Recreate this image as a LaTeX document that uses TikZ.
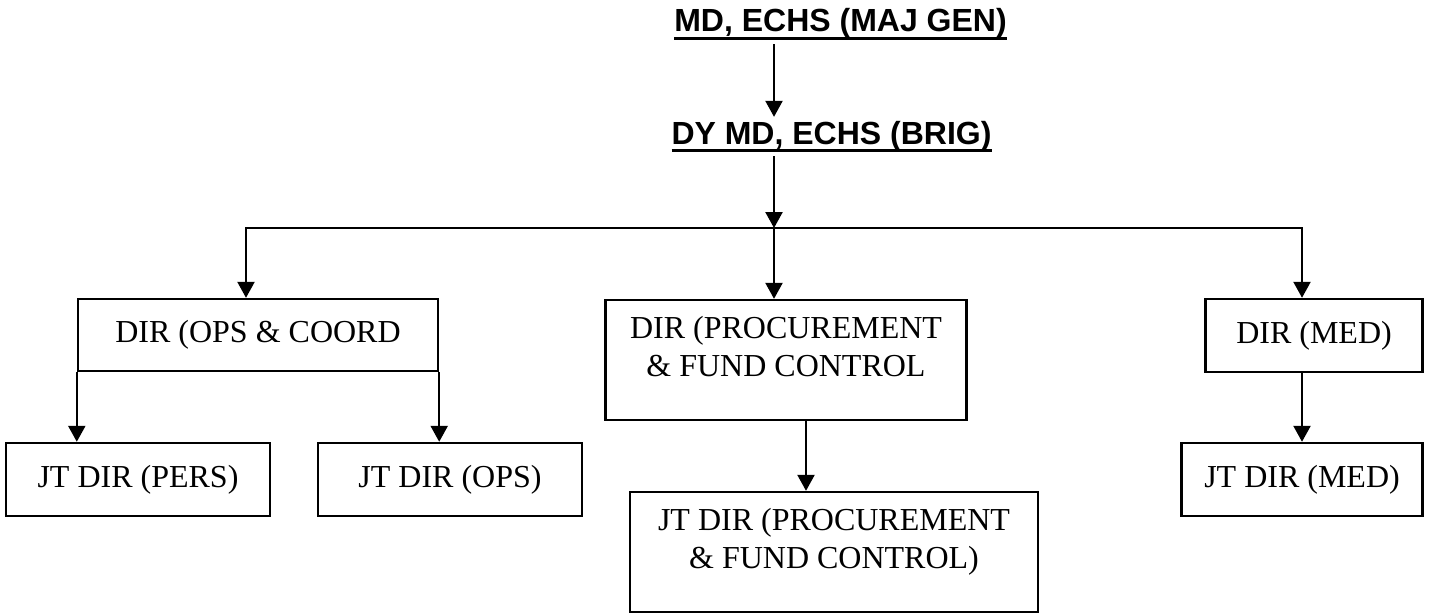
\documentclass[tikz,border=0pt]{standalone}
\usepackage{fontspec}
\setmainfont{Liberation Serif}
\setsansfont{Liberation Sans}
\usetikzlibrary{arrows.meta}
\usetikzlibrary{positioning}
\newsavebox\headbox
\newcommand\ulhead[1]{\sbox\headbox{#1}\rlap{\rule[-3pt]{\wd\headbox}{1.1pt}}\usebox\headbox}
\newcommand\lowpad{\rule[-10pt]{0pt}{10pt}}

\begin{document}
\begin{tikzpicture}[x=0.375pt, y=-0.375pt, unit/.style={draw, line width=0.9pt, inner sep=0pt, align=center, font=\fontsize{12}{14.4}\selectfont}]
    \tikzset{head/.style={inner sep=0pt, outer sep=1.5pt, anchor=base, font=\fontsize{12}{14.4}\selectfont\sffamily\bfseries}}
    \tikzset{link/.style={line width=0.8pt, >={Triangle[length=6pt, width=6.4pt]}, ->}}
    \useasboundingbox (0,0) rectangle (1432,614);
    \def \gap {4.5pt}

    \node[head] (md) at (840.5,32) {\ulhead{MD, ECHS (MAJ GEN)}};
    \node[head] (dy) at (831.5,144) {\ulhead{DY MD, ECHS (BRIG)}};
    \coordinate (jn) at (774,228);

    \node[unit, minimum width=135pt, minimum height=27pt] (opsd) at (258,335) {DIR (OPS \& COORD};
    \node[unit, minimum width=135.4pt, minimum height=45pt] (procd) at (786,360) {DIR (PROCUREMENT\\ \& FUND CONTROL\lowpad};
    \node[unit, minimum width=81.4pt, minimum height=27.4pt] (medd) at (1314,335.5) {DIR (MED)};

    \node[unit, minimum width=99pt, minimum height=27.4pt] (pers) at (138,479.5) {JT DIR (PERS)};
    \node[unit, minimum width=99pt, minimum height=27.4pt] (jtops) at (450,479.5) {JT DIR (OPS)};
    \node[unit, minimum width=153pt, minimum height=45pt] (jtproc) at (834,552) {JT DIR (PROCUREMENT\\ \& FUND CONTROL)\lowpad};
    \node[unit, minimum width=90.4pt, minimum height=27.4pt] (jtmed) at (1302,479.5) {JT DIR (MED)};

    \draw[link] (md.south -| jn) -- (dy.north -| jn);
    \draw[link] (dy.south -| jn) -- (jn);
    \draw[link] (jn) -| ([xshift=-\gap]opsd.north);
    \draw[link] (jn) -- (jn |- procd.north);
    \draw[link] (jn) -| (medd.north -| jtmed);

    \draw[link] (opsd.south west) -- (opsd.south west |- pers.north);
    \draw[link] (opsd.south east) -- (opsd.south east |- jtops.north);
    \draw[link] ([xshift=7.5pt]procd.south) -- ([xshift=7.5pt]procd.south |- jtproc.north);
    \draw[link] (medd.south -| jtmed) -- (jtmed.north);
\end{tikzpicture}
\end{document}
